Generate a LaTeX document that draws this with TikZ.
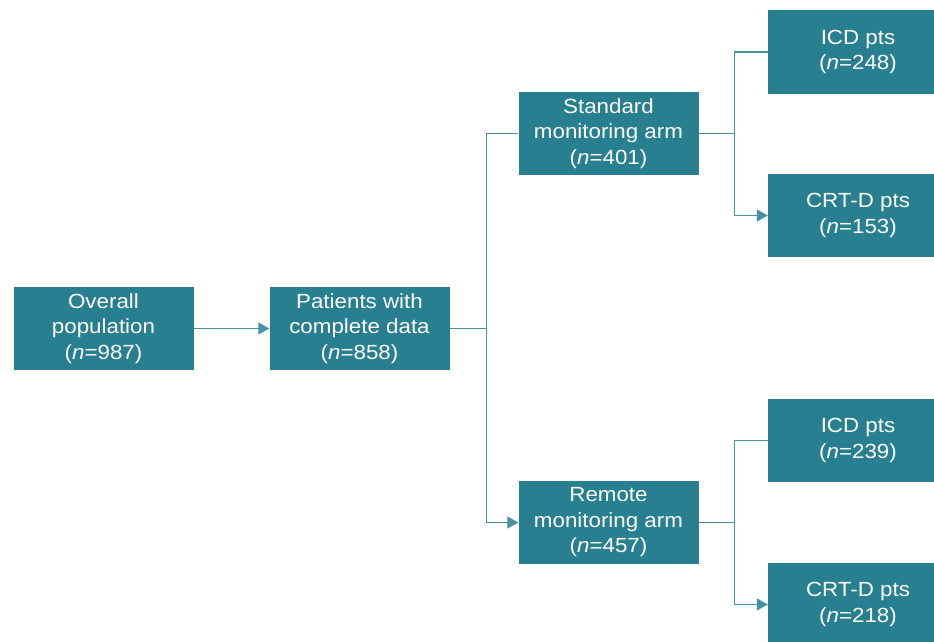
\documentclass[tikz,border=0pt]{standalone}
\usepackage{fontspec}
\setmainfont{Liberation Sans}
\newfontfamily\boxfont[FakeStretch=1.09]{Liberation Sans}
\usetikzlibrary{arrows.meta}
\definecolor{boxteal}{HTML}{277F8F}

\begin{document}
\begin{tikzpicture}[x=1pt,y=1pt,yscale=-1,xscale=1,
  box/.style={fill=boxteal, text=white, minimum width=180pt, minimum height=83pt,
    inner sep=0pt, align=center, font=\boxfont\fontsize{20.5}{25.5}\selectfont},
  link/.style={draw=boxteal!85, line width=1.3pt},
  arr/.style={link, -{Triangle[length=11pt,width=12pt]}}]
\useasboundingbox (0,0) rectangle (934,642);
\node [box] (overall) at (103.5,328.5) {Overall\\population\\(\textit{n}=987)};
\node [box] (complete) at (359.5,328.5) {Patients with\\complete data\\(\textit{n}=858)};
\node [box] (standard) at (608.5,133.5) {Standard\\monitoring arm\\(\textit{n}=401)};
\node [box] (remote) at (608.5,522.5) {Remote\\monitoring arm\\(\textit{n}=457)};
\node [box] (icdstd) at (858,52) {ICD pts\\(\textit{n}=248)};
\node [box] (crtstd) at (858,215.5) {CRT-D pts\\(\textit{n}=153)};
\node [box] (icdrem) at (858,440.5) {ICD pts\\(\textit{n}=239)};
\node [box] (crtrem) at (858,604.5) {CRT-D pts\\(\textit{n}=218)};
\coordinate (split) at (486.5,328.5);
\coordinate (splitstd) at (734.5,133.5);
\coordinate (splitrem) at (734.5,522.5);
\draw [arr] (overall) -- (complete);
\draw [link] (complete) -- (split);
\draw [link] (split) |- (standard.west);
\draw [arr] (split) |- (remote.west);
\draw [link] (standard) -- (splitstd);
\draw [link] (splitstd) |- (icdstd.west);
\draw [arr] (splitstd) |- (crtstd.west);
\draw [link] (remote) -- (splitrem);
\draw [link] (splitrem) |- (icdrem.west);
\draw [arr] (splitrem) |- (crtrem.west);
\end{tikzpicture}
\end{document}
